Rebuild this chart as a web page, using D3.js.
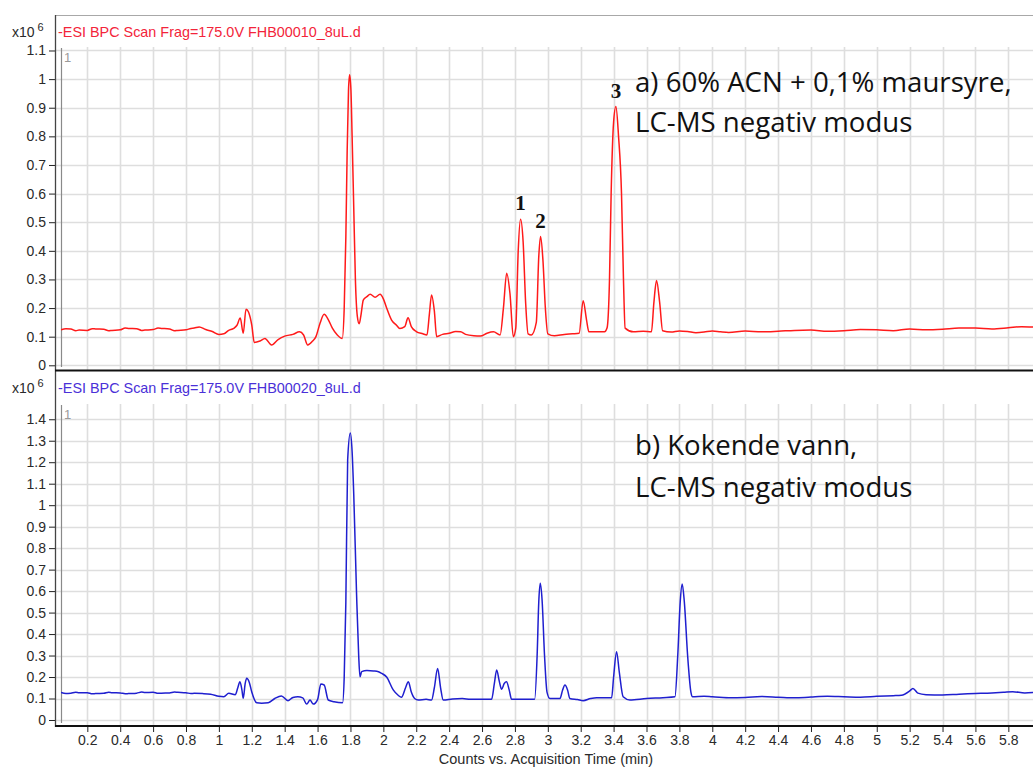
<!DOCTYPE html>
<html>
<head>
<meta charset="utf-8">
<script src="https://cdn.jsdelivr.net/npm/d3@7"></script>
<style>
  html, body { margin: 0; padding: 0; background: #fff; }
  svg { display: block; }
  .tick text { font-family: "Liberation Sans", Arial, sans-serif; font-size: 14px; fill: #2a2a2a; }
</style>
</head>
<body>
<div id="chart"></div>
<script>
// tick labels
const xTicks = [0.2, 0.4, 0.6, 0.8, 1, 1.2, 1.4, 1.6, 1.8, 2, 2.2, 2.4, 2.6, 2.8, 3, 3.2, 3.4, 3.6, 3.8, 4, 4.2, 4.4, 4.6, 4.8, 5, 5.2, 5.4, 5.6, 5.8];
const yTicksTop = [0, 0.1, 0.2, 0.3, 0.4, 0.5, 0.6, 0.7, 0.8, 0.9, 1, 1.1];
const yTicksBottom = [0, 0.1, 0.2, 0.3, 0.4, 0.5, 0.6, 0.7, 0.8, 0.9, 1, 1.1, 1.2, 1.3, 1.4];

// trace a) [time (min), counts x10^6]
const traceA = [
  [0.04,0.124],[0.07,0.128],[0.1,0.127],[0.13,0.121],[0.15,0.123],[0.2,0.122],[0.23,0.128],[0.25,0.127],[0.3,0.126],
  [0.33,0.121],[0.35,0.122],[0.4,0.124],[0.43,0.13],[0.45,0.129],[0.5,0.128],[0.53,0.122],[0.55,0.123],[0.6,0.125],
  [0.63,0.13],[0.65,0.129],[0.7,0.127],[0.73,0.121],[0.75,0.122],[0.8,0.124],[0.83,0.129],[0.85,0.13],[0.88,0.134],
  [0.92,0.125],[0.96,0.118],[1.0,0.108],[1.03,0.11],[1.06,0.122],[1.09,0.129],[1.11,0.14],[1.13,0.165],[1.148,0.112],
  [1.165,0.196],[1.18,0.186],[1.2,0.14],[1.215,0.08],[1.25,0.085],[1.28,0.094],[1.32,0.071],[1.36,0.09],[1.4,0.102],
  [1.45,0.108],[1.49,0.117],[1.515,0.106],[1.54,0.071],[1.57,0.085],[1.59,0.1],[1.615,0.147],[1.64,0.178],[1.665,0.16],
  [1.69,0.13],[1.72,0.106],[1.75,0.094],[1.762,0.2],[1.772,0.45],[1.78,0.75],[1.788,0.96],[1.795,1.015],[1.803,0.96],
  [1.81,0.8],[1.82,0.55],[1.83,0.3],[1.842,0.17],[1.853,0.145],[1.865,0.18],[1.878,0.228],[1.9,0.24],[1.92,0.248],
  [1.95,0.238],[1.98,0.248],[2.0,0.232],[2.02,0.2],[2.05,0.158],[2.08,0.14],[2.1,0.129],[2.13,0.135],[2.15,0.166],
  [2.17,0.135],[2.2,0.118],[2.24,0.11],[2.265,0.106],[2.28,0.18],[2.293,0.246],[2.31,0.19],[2.324,0.1],[2.36,0.108],
  [2.4,0.112],[2.44,0.118],[2.47,0.117],[2.5,0.108],[2.55,0.103],[2.59,0.102],[2.63,0.112],[2.67,0.117],[2.71,0.106],
  [2.73,0.2],[2.75,0.322],[2.77,0.25],[2.79,0.1],[2.805,0.13],[2.82,0.4],[2.834,0.51],[2.85,0.43],[2.865,0.22],
  [2.88,0.11],[2.9,0.106],[2.93,0.15],[2.945,0.38],[2.956,0.45],[2.97,0.37],[2.985,0.2],[3.0,0.11],[3.04,0.103],
  [3.1,0.108],[3.15,0.11],[3.19,0.112],[3.215,0.226],[3.235,0.16],[3.25,0.117],[3.3,0.117],[3.345,0.117],[3.36,0.13],
  [3.375,0.3],[3.385,0.6],[3.4,0.85],[3.414,0.904],[3.43,0.8],[3.448,0.6],[3.46,0.3],[3.47,0.13],[3.52,0.117],
  [3.58,0.119],[3.63,0.117],[3.645,0.22],[3.661,0.296],[3.68,0.22],[3.698,0.121],[3.75,0.116],[3.8,0.12],[3.85,0.118],
  [3.9,0.114],[3.95,0.116],[4.0,0.12],[4.05,0.117],[4.1,0.115],[4.2,0.12],[4.3,0.117],[4.4,0.119],[4.5,0.122],
  [4.6,0.123],[4.7,0.119],[4.8,0.121],[4.9,0.125],[5.0,0.124],[5.1,0.121],[5.2,0.127],[5.3,0.124],[5.4,0.126],
  [5.5,0.13],[5.6,0.13],[5.7,0.127],[5.8,0.131],[5.88,0.135],[5.95,0.134]
];

// trace b)
const traceB = [
  [0.04,0.128],[0.07,0.123],[0.1,0.125],[0.13,0.129],[0.15,0.127],[0.2,0.127],[0.23,0.122],[0.25,0.123],[0.3,0.124],
  [0.33,0.129],[0.35,0.127],[0.4,0.126],[0.43,0.122],[0.45,0.123],[0.5,0.125],[0.53,0.13],[0.55,0.128],[0.6,0.129],
  [0.63,0.124],[0.65,0.125],[0.7,0.126],[0.73,0.13],[0.75,0.129],[0.8,0.127],[0.83,0.123],[0.85,0.124],[0.9,0.123],
  [0.95,0.12],[1.0,0.11],[1.03,0.108],[1.06,0.124],[1.1,0.118],[1.115,0.15],[1.128,0.178],[1.14,0.14],[1.148,0.101],
  [1.16,0.17],[1.169,0.194],[1.185,0.175],[1.2,0.13],[1.23,0.08],[1.26,0.078],[1.3,0.08],[1.34,0.1],[1.38,0.112],
  [1.42,0.09],[1.45,0.105],[1.48,0.108],[1.51,0.103],[1.534,0.074],[1.554,0.093],[1.574,0.074],[1.6,0.095],
  [1.62,0.167],[1.64,0.163],[1.665,0.093],[1.7,0.085],[1.752,0.08],[1.762,0.2],[1.772,0.55],[1.783,1.21],
  [1.799,1.336],[1.81,1.25],[1.82,1.05],[1.837,0.589],[1.85,0.3],[1.858,0.201],[1.868,0.225],[1.9,0.23],[1.94,0.228],
  [1.97,0.225],[1.99,0.217],[2.02,0.2],[2.06,0.14],[2.09,0.115],[2.11,0.106],[2.135,0.15],[2.152,0.178],[2.17,0.13],
  [2.19,0.1],[2.212,0.093],[2.26,0.096],[2.293,0.093],[2.31,0.15],[2.33,0.24],[2.348,0.15],[2.364,0.093],[2.42,0.098],
  [2.48,0.1],[2.53,0.096],[2.6,0.097],[2.658,0.096],[2.675,0.17],[2.689,0.233],[2.705,0.18],[2.719,0.143],[2.735,0.17],
  [2.749,0.178],[2.765,0.14],[2.78,0.096],[2.85,0.096],[2.92,0.096],[2.935,0.3],[2.945,0.55],[2.954,0.636],
  [2.965,0.56],[2.98,0.3],[2.995,0.13],[3.013,0.1],[3.074,0.1],[3.09,0.14],[3.104,0.163],[3.12,0.14],[3.134,0.1],
  [3.18,0.095],[3.215,0.09],[3.26,0.1],[3.297,0.104],[3.388,0.104],[3.4,0.2],[3.418,0.318],[3.435,0.22],[3.458,0.108],
  [3.499,0.093],[3.6,0.1],[3.7,0.104],[3.773,0.108],[3.79,0.3],[3.805,0.55],[3.817,0.633],[3.83,0.55],[3.85,0.3],
  [3.87,0.13],[3.88,0.108],[3.95,0.111],[4.0,0.108],[4.1,0.104],[4.2,0.105],[4.3,0.109],[4.4,0.106],[4.5,0.103],
  [4.6,0.107],[4.7,0.11],[4.8,0.108],[4.9,0.106],[5.0,0.11],[5.1,0.113],[5.15,0.115],[5.2,0.135],[5.22,0.147],
  [5.25,0.125],[5.3,0.118],[5.4,0.116],[5.5,0.12],[5.6,0.123],[5.7,0.126],[5.77,0.129],[5.827,0.132],[5.9,0.126],[5.95,0.128]
];

// peak labels on trace a)
const peakLabels = [
  { label: "1", t: 2.834, v: 0.51 },
  { label: "2", t: 2.956, v: 0.45 },
  { label: "3", t: 3.414, v: 0.904 }
];

const W = 1033, H = 767;
const frameX = 55, plotX = 61;

const svg = d3.select('#chart').append('svg')
  .attr('width', W)
  .attr('height', H);

const x = d3.scaleLinear().domain([0.04, 5.95]).range([plotX, W]);

const panels = [
  {
    id: 'a', data: traceA, ticks: yTicksTop, color: '#ff1a1a', titleColor: '#f3243a',
    title: '-ESI BPC Scan Frag=175.0V FHB00010_8uL.d',
    plotTop: 47, bottom: 370, yDomain: [-0.0164, 1.1122], hdrY: 37,
    note: ['a) 60% ACN + 0,1% maursyre,', 'LC-MS negativ modus'], noteY: [92, 132]
  },
  {
    id: 'b', data: traceB, ticks: yTicksBottom, color: '#1f1fcf', titleColor: '#4a30d8',
    title: '-ESI BPC Scan Frag=175.0V FHB00020_8uL.d',
    plotTop: 404, bottom: 726, yDomain: [-0.028, 1.471], hdrY: 393,
    note: ['b) Kokende vann,', 'LC-MS negativ modus'], noteY: [455, 497]
  }
];

panels.forEach(p => {
  const y = d3.scaleLinear().domain(p.yDomain).range([p.bottom, p.plotTop]);
  const g = svg.append('g');

  // grid
  g.append('g').selectAll('line')
    .data(p.ticks)
    .enter().append('line')
    .attr('x1', frameX).attr('x2', W)
    .attr('y1', d => Math.round(y(d)) + 0.5).attr('y2', d => Math.round(y(d)) + 0.5)
    .attr('stroke', '#dedede').attr('stroke-width', 1.6);

  g.append('g').selectAll('line')
    .data(xTicks)
    .enter().append('line')
    .attr('x1', d => Math.round(x(d)) + 0.5).attr('x2', d => Math.round(x(d)) + 0.5)
    .attr('y1', p.plotTop).attr('y2', p.bottom)
    .attr('stroke', '#dedede').attr('stroke-width', 1.6);

  // inner left line
  g.append('line')
    .attr('x1', plotX + 0.5).attr('x2', plotX + 0.5)
    .attr('y1', p.plotTop + 1).attr('y2', p.bottom - 3)
    .attr('stroke', '#8a8a8a').attr('stroke-width', 1.2);

  g.append('text')
    .attr('x', plotX + 3).attr('y', p.plotTop + 15)
    .attr('font-family', '"Liberation Sans", Arial, sans-serif')
    .attr('font-size', 13).attr('fill', '#9a9a9a')
    .text('1');

  // trace
  const clipId = 'clip-' + p.id;
  svg.append('clipPath').attr('id', clipId)
    .append('rect')
    .attr('x', plotX).attr('y', p.plotTop)
    .attr('width', W - plotX).attr('height', p.bottom - p.plotTop);

  const line = d3.line()
    .x(d => x(d[0]))
    .y(d => y(d[1]))
    .curve(d3.curveMonotoneX);

  g.append('path')
    .datum(p.data)
    .attr('clip-path', `url(#${clipId})`)
    .attr('fill', 'none')
    .attr('stroke', p.color)
    .attr('stroke-width', 1.5)
    .attr('stroke-linejoin', 'round')
    .attr('d', line);

  // y axis
  const yAxis = d3.axisLeft(y)
    .tickValues(p.ticks)
    .tickSize(6)
    .tickPadding(3)
    .tickFormat(d => String(d));

  g.append('g')
    .attr('transform', `translate(${frameX},0)`)
    .call(yAxis)
    .call(a => a.select('.domain').remove())
    .call(a => a.selectAll('.tick line').attr('stroke', '#222'));

  // header
  g.append('text')
    .attr('x', 58).attr('y', p.hdrY)
    .attr('font-family', '"Liberation Sans", Arial, sans-serif')
    .attr('font-size', 14.4)
    .attr('fill', p.titleColor)
    .text(p.title);

  const exp = g.append('text')
    .attr('x', 12).attr('y', p.hdrY)
    .attr('font-family', '"Liberation Sans", Arial, sans-serif')
    .attr('font-size', 14)
    .attr('fill', '#2a2a2a');
  exp.append('tspan').text('x10');
  exp.append('tspan').attr('dx', 3).attr('dy', -6).attr('font-size', 11).text('6');

  // annotation
  g.append('g').selectAll('text')
    .data(p.note)
    .enter().append('text')
    .attr('x', 635)
    .attr('y', (d, i) => p.noteY[i])
    .attr('font-family', '"Open Sans", Lato, sans-serif')
    .attr('font-size', 27.6)
    .attr('fill', '#111')
    .text(d => d);

  if (p.id === 'a') {
    g.append('g').selectAll('text')
      .data(peakLabels)
      .enter().append('text')
      .attr('x', d => x(d.t))
      .attr('y', d => y(d.v) - 9)
      .attr('text-anchor', 'middle')
      .attr('font-family', '"Liberation Serif", "Times New Roman", serif')
      .attr('font-weight', 'bold')
      .attr('font-size', 21)
      .attr('fill', '#111')
      .text(d => d.label);
  }
});

// frame
svg.append('line')
  .attr('x1', frameX).attr('x2', W).attr('y1', 15.5).attr('y2', 15.5)
  .attr('stroke', '#a8a8a8').attr('stroke-width', 1);
svg.append('line')
  .attr('x1', frameX + 0.5).attr('x2', frameX + 0.5).attr('y1', 15).attr('y2', 727)
  .attr('stroke', '#444').attr('stroke-width', 1.3);
svg.append('line')
  .attr('x1', frameX).attr('x2', W).attr('y1', 370.5).attr('y2', 370.5)
  .attr('stroke', '#111').attr('stroke-width', 2);

// x axis
const xAxis = d3.axisBottom(x)
  .tickValues(xTicks)
  .tickSize(6)
  .tickPadding(3)
  .tickFormat(d => String(d));

svg.append('g')
  .attr('transform', 'translate(0,726)')
  .call(xAxis)
  .call(a => a.select('.domain').remove())
  .call(a => a.selectAll('.tick line').attr('stroke', '#222'));

svg.append('line')
  .attr('x1', frameX).attr('x2', W).attr('y1', 726).attr('y2', 726)
  .attr('stroke', '#111').attr('stroke-width', 2.2);

svg.append('text')
  .attr('x', 546).attr('y', 764)
  .attr('text-anchor', 'middle')
  .attr('font-family', '"Liberation Sans", Arial, sans-serif')
  .attr('font-size', 14.5)
  .attr('fill', '#2a2a2a')
  .text('Counts vs. Acquisition Time (min)');
</script>
</body>
</html>
